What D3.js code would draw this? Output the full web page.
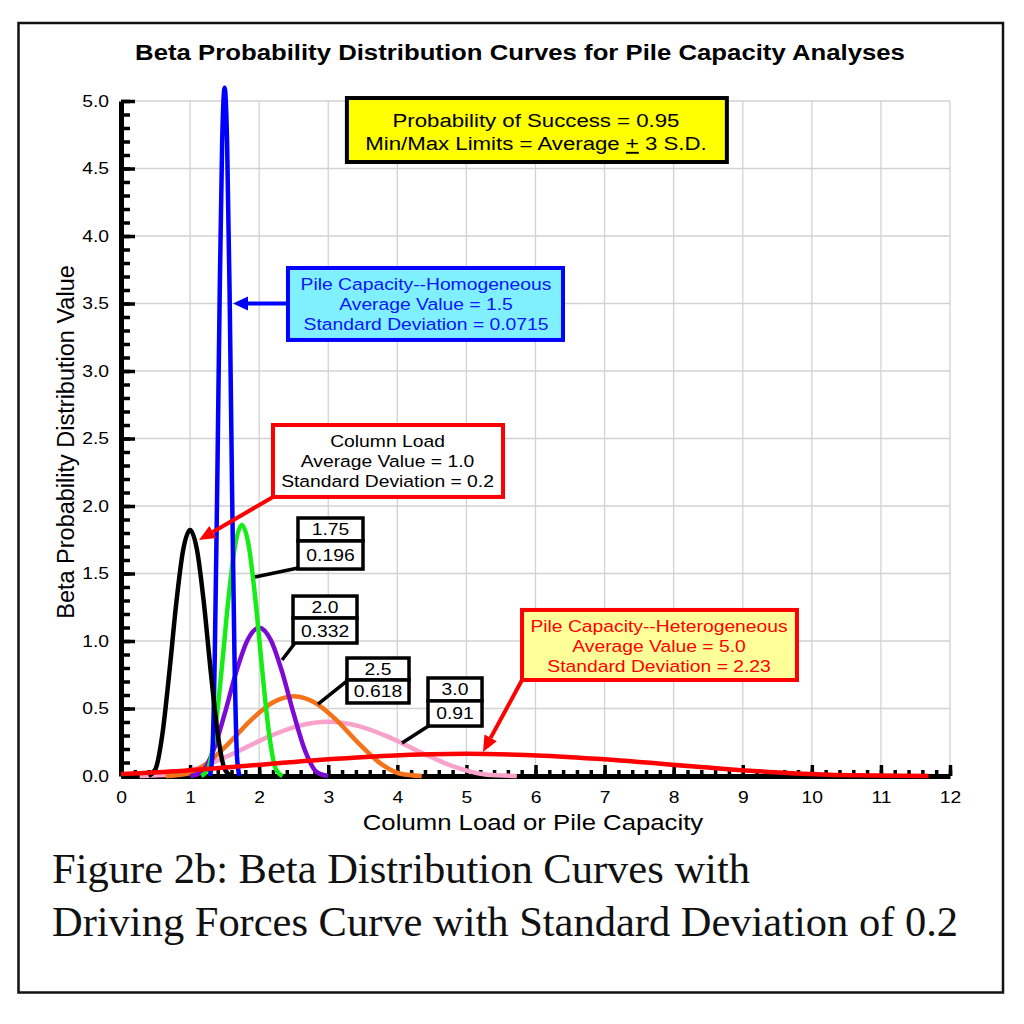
<!DOCTYPE html>
<html><head><meta charset="utf-8">
<script src="https://cdn.jsdelivr.net/npm/d3@7"></script>
<style>body{margin:0;background:#fff}</style>
</head><body>
<svg id="chart" width="1024" height="1024"></svg>
<script>
// ---------------- data ----------------
const xTickValues = [0,1,2,3,4,5,6,7,8,9,10,11,12];
const yTickValues = [0,0.5,1,1.5,2,2.5,3,3.5,4,4.5,5];
const xMinorTicks = d3.range(0, 12.001, 0.2);
const yMinorTicks = d3.range(0, 5.001, 0.1);

const columnLoad = [[0.4,0],[0.5,0.052],[0.6,0.313],[0.7,0.769],[0.8,1.280],[0.9,1.675],[1.0,1.823],[1.1,1.675],[1.2,1.280],[1.3,0.769],[1.4,0.313],[1.5,0.052],[1.6,0]];
const pileHomogeneous = [[1.286,0],[1.321,0.146],[1.357,0.874],[1.393,2.151],[1.429,3.581],[1.464,4.686],[1.5,5.099],[1.536,4.686],[1.572,3.581],[1.607,2.151],[1.643,0.874],[1.679,0.146],[1.714,0]];
const pile175 = [[1.162,0],[1.260,0.053],[1.358,0.319],[1.456,0.785],[1.554,1.306],[1.652,1.709],[1.750,1.860],[1.848,1.709],[1.946,1.306],[2.044,0.785],[2.142,0.319],[2.240,0.053],[2.338,0]];
const pile200 = [[1.004,0],[1.170,0.031],[1.336,0.188],[1.502,0.463],[1.668,0.771],[1.834,1.009],[2.000,1.098],[2.166,1.009],[2.332,0.771],[2.498,0.463],[2.664,0.188],[2.830,0.031],[2.996,0]];
const pile250 = [[0.646,0],[0.955,0.017],[1.264,0.101],[1.573,0.249],[1.882,0.414],[2.191,0.542],[2.500,0.590],[2.809,0.542],[3.118,0.414],[3.427,0.249],[3.736,0.101],[4.045,0.017],[4.354,0]];
const pile300 = [[0.270,0],[0.725,0.011],[1.180,0.069],[1.635,0.169],[2.090,0.281],[2.545,0.368],[3.000,0.401],[3.455,0.368],[3.910,0.281],[4.365,0.169],[4.820,0.069],[5.275,0.011],[5.730,0]];
const pileHeterogeneous = [[-1.690,0],[-0.575,0.005],[0.540,0.028],[1.655,0.069],[2.770,0.115],[3.885,0.150],[5.000,0.164],[6.115,0.150],[7.230,0.115],[8.345,0.069],[9.460,0.028],[10.575,0.005],[11.690,0]];

const labelMeans = ["1.75","2.0","2.5","3.0"];
const labelSDs = ["0.196","0.332","0.618","0.91"];

const chartTitle = "Beta Probability Distribution Curves for Pile Capacity Analyses";
const xTitle = "Column Load or Pile Capacity";
const yTitle = "Beta Probability Distribution Value";
const captionLines = ["Figure 2b: Beta Distribution Curves with","Driving Forces Curve with Standard Deviation of 0.2"];
const noteLines = ["Probability of Success = 0.95","Min/Max Limits = Average "];
const homogLines = ["Pile Capacity--Homogeneous","Average Value = 1.5","Standard Deviation = 0.0715"];
const columnLines = ["Column Load","Average Value = 1.0","Standard Deviation = 0.2"];
const heteroLines = ["Pile Capacity--Heterogeneous","Average Value = 5.0","Standard Deviation = 2.23"];

// ---------------- setup ----------------
const SANS = "'Liberation Sans', Arial, sans-serif";
const SERIF = "'Liberation Serif', 'Times New Roman', serif";
const SX = 1.17;
const svg = d3.select("#chart");
const x = d3.scaleLinear().domain([0,12]).range([121,950]);
const y = d3.scaleLinear().domain([0,5]).range([776,101]);

function txt(sel, px, py, s, o) {
  return sel.append("text")
    .attr("transform", `translate(${px},${py}) scale(${o.sx ?? SX},1)`)
    .attr("text-anchor", o.anchor || "middle")
    .attr("font-family", o.family || SANS)
    .attr("font-size", o.size)
    .attr("font-weight", o.weight || "normal")
    .attr("fill", o.fill || "#000")
    .text(s);
}
function arrow(sel, x1, y1, x2, y2, color, w, hl, hw) {
  const dx = x2 - x1, dy = y2 - y1, L = Math.hypot(dx, dy);
  const ux = dx / L, uy = dy / L;
  const bx = x2 - ux * hl, by = y2 - uy * hl;
  sel.append("line").attr("x1", x1).attr("y1", y1).attr("x2", bx).attr("y2", by)
    .attr("stroke", color).attr("stroke-width", w);
  sel.append("path")
    .attr("d", `M${x2},${y2}L${bx - uy*hw/2},${by + ux*hw/2}L${bx + uy*hw/2},${by - ux*hw/2}Z`)
    .attr("fill", color);
}

// outer frame
svg.append("rect").attr("x", 18.5).attr("y", 23).attr("width", 984.5).attr("height", 969.5)
  .attr("fill", "none").attr("stroke", "#111").attr("stroke-width", 2.5);

// title
txt(svg, 520, 60, chartTitle, {size: 22, weight: "bold"});

// gridlines
const grid = svg.append("g").attr("stroke", "#d2d2d2").attr("stroke-width", 1.3);
grid.selectAll(".gv").data(xTickValues.slice(1)).join("line")
  .attr("x1", d => x(d)).attr("x2", d => x(d)).attr("y1", y(0)).attr("y2", y(5));
grid.selectAll(".gh").data(yTickValues.slice(1)).join("line")
  .attr("x1", x(0)).attr("x2", x(12)).attr("y1", d => y(d)).attr("y2", d => y(d));

// axes
const yMinor = svg.append("g").attr("transform", `translate(${x(0)},0)`)
  .call(d3.axisLeft(y).tickValues(yMinorTicks).tickSizeInner(-9).tickSizeOuter(0).tickFormat(""));
yMinor.select(".domain").remove();
const xMinor = svg.append("g").attr("transform", `translate(0,${y(0)})`)
  .call(d3.axisBottom(x).tickValues(xMinorTicks).tickSizeInner(-6).tickSizeOuter(0).tickFormat(""));
xMinor.select(".domain").remove();

const yAxis = svg.append("g").attr("transform", `translate(${x(0)},0)`)
  .call(d3.axisLeft(y).tickValues(yTickValues).tickSizeInner(-14).tickSizeOuter(0).tickPadding(12).tickFormat(d3.format(".1f")));
const xAxis = svg.append("g").attr("transform", `translate(0,${y(0)})`)
  .call(d3.axisBottom(x).tickValues(xTickValues).tickSizeInner(-11).tickSizeOuter(0).tickPadding(15).tickFormat(d3.format("d")));

svg.selectAll(".tick line").attr("stroke", "#000").attr("stroke-width", 3.5);
[yAxis, xAxis].forEach(a => {
  a.select(".domain").attr("stroke", "#000").attr("stroke-width", 5);
  a.selectAll("text").attr("font-family", SANS).attr("font-size", 16.5).attr("fill", "#000");
});
yAxis.selectAll(".tick text").each(function() {
  const t = d3.select(this); const xx = +t.attr("x");
  t.attr("x", null).attr("transform", `translate(${xx},0) scale(${SX},1)`);
});
xAxis.selectAll(".tick text").each(function() {
  const t = d3.select(this); const yy = +t.attr("y");
  t.attr("y", null).attr("transform", `translate(0,${yy}) scale(${SX},1)`);
});

// axis titles
txt(svg, 533, 830, xTitle, {size: 22});
svg.append("text").attr("transform", `translate(74,442) rotate(-90)`)
  .attr("text-anchor", "middle").attr("font-family", SANS).attr("font-size", 23.5).attr("fill", "#000")
  .text(yTitle);

// curves
svg.append("clipPath").attr("id", "plotclip").append("rect")
  .attr("x", x(0)).attr("y", 60).attr("width", x(12) - x(0)).attr("height", y(0) - 60 + 3);
const line = d3.line().x(d => x(d[0])).y(d => y(d[1])).curve(d3.curveMonotoneX);
const curves = [
  [pile300, "#f7a1cb"], [pile250, "#f47318"], [pile200, "#7d0ad4"], [pile175, "#14ee14"],
  [pileHomogeneous, "#0000ff"], [columnLoad, "#000000"], [pileHeterogeneous, "#ff0000"]
];
const cg = svg.append("g").attr("clip-path", "url(#plotclip)");
curves.forEach(([data, color]) => {
  cg.append("path").attr("d", line(data)).attr("fill", "none")
    .attr("stroke", color).attr("stroke-width", 4.5).attr("stroke-linejoin", "round");
});

// ---------- annotations ----------
// Note box (yellow)
svg.append("rect").attr("x", x(3.27)).attr("y", y(5.022)).attr("width", x(8.77) - x(3.27)).attr("height", y(4.548) - y(5.022))
  .attr("fill", "#ffff00").attr("stroke", "#000").attr("stroke-width", 4);
txt(svg, x(6.007), y(4.807), noteLines[0], {size: 19});
const nl = txt(svg, x(6.007), y(4.637), noteLines[1], {size: 19});
nl.append("tspan").attr("text-decoration", "underline").style("text-decoration", "underline").text("+");
nl.append("tspan").text(" 3 S.D.");

// Homogeneous box (cyan)
arrow(svg, x(2.417), y(3.5), x(1.621), y(3.5), "#0000ff", 4, 15, 14);
svg.append("rect").attr("x", x(2.417)).attr("y", y(3.763)).attr("width", x(6.398) - x(2.417)).attr("height", y(3.230) - y(3.763))
  .attr("fill", "#80f0ff").attr("stroke", "#0000ff").attr("stroke-width", 4);
[3.600, 3.452, 3.304].forEach((v, i) => txt(svg, x(4.415), y(v), homogLines[i], {size: 16.5, fill: "#0a14ff"}));

// Column load box (white, red border)
arrow(svg, x(2.2), y(2.067), x(1.129), y(1.748), "#ff0000", 4, 16, 14);
svg.append("rect").attr("x", x(2.2)).attr("y", y(2.600)).attr("width", x(5.530) - x(2.2)).attr("height", y(2.067) - y(2.600))
  .attr("fill", "#fff").attr("stroke", "#ff0000").attr("stroke-width", 4);
[2.437, 2.289, 2.141].forEach((v, i) => txt(svg, x(3.858), y(v), columnLines[i], {size: 16.5}));

// Heterogeneous box (light yellow)
arrow(svg, x(5.805), y(0.711), x(5.240), y(0.178), "#ff0000", 4, 16, 14);
svg.append("rect").attr("x", x(5.805)).attr("y", y(1.230)).attr("width", x(9.785) - x(5.805)).attr("height", y(0.711) - y(1.230))
  .attr("fill", "#ffff99").attr("stroke", "#ff0000").attr("stroke-width", 4);
[1.067, 0.919, 0.770].forEach((v, i) => txt(svg, x(7.788), y(v), heteroLines[i], {size: 16.5, fill: "#ff0000"}));

// Small mean / SD labels
const smallBoxes = [
  {x0: 2.562, x1: 3.503, top: 1.911, mid: 1.741, bot: 1.533, from: [2.562, 1.541], to: [1.940, 1.474]},
  {x0: 2.490, x1: 3.416, top: 1.333, mid: 1.170, bot: 0.985, from: [2.519, 0.985], to: [2.331, 0.859]},
  {x0: 3.271, x1: 4.169, top: 0.874, mid: 0.711, bot: 0.541, from: [3.286, 0.711], to: [2.852, 0.533]},
  {x0: 4.444, x1: 5.226, top: 0.726, mid: 0.556, bot: 0.370, from: [4.473, 0.378], to: [4.068, 0.244]}
];
smallBoxes.forEach((b, i) => {
  svg.append("line").attr("x1", x(b.from[0])).attr("y1", y(b.from[1])).attr("x2", x(b.to[0])).attr("y2", y(b.to[1]))
    .attr("stroke", "#000").attr("stroke-width", 3.5);
  svg.append("rect").attr("x", x(b.x0)).attr("y", y(b.top)).attr("width", x(b.x1) - x(b.x0)).attr("height", y(b.mid) - y(b.top))
    .attr("fill", "#fff").attr("stroke", "#000").attr("stroke-width", 3.5);
  svg.append("rect").attr("x", x(b.x0)).attr("y", y(b.mid)).attr("width", x(b.x1) - x(b.x0)).attr("height", y(b.bot) - y(b.mid))
    .attr("fill", "#fff").attr("stroke", "#000").attr("stroke-width", 3.5);
  const cx = (x(b.x0) + x(b.x1)) / 2;
  txt(svg, cx, (y(b.top) + y(b.mid)) / 2 + 6, labelMeans[i], {size: 16.5});
  txt(svg, cx, (y(b.mid) + y(b.bot)) / 2 + 6, labelSDs[i], {size: 16.5});
});

// caption
svg.append("text").attr("x", 52).attr("y", 883).attr("font-family", SERIF).attr("font-size", 43)
  .attr("textLength", 698).attr("lengthAdjust", "spacingAndGlyphs").attr("fill", "#111").text(captionLines[0]);
svg.append("text").attr("x", 52).attr("y", 936).attr("font-family", SERIF).attr("font-size", 43)
  .attr("textLength", 906).attr("lengthAdjust", "spacingAndGlyphs").attr("fill", "#111").text(captionLines[1]);
</script>
</body></html>
